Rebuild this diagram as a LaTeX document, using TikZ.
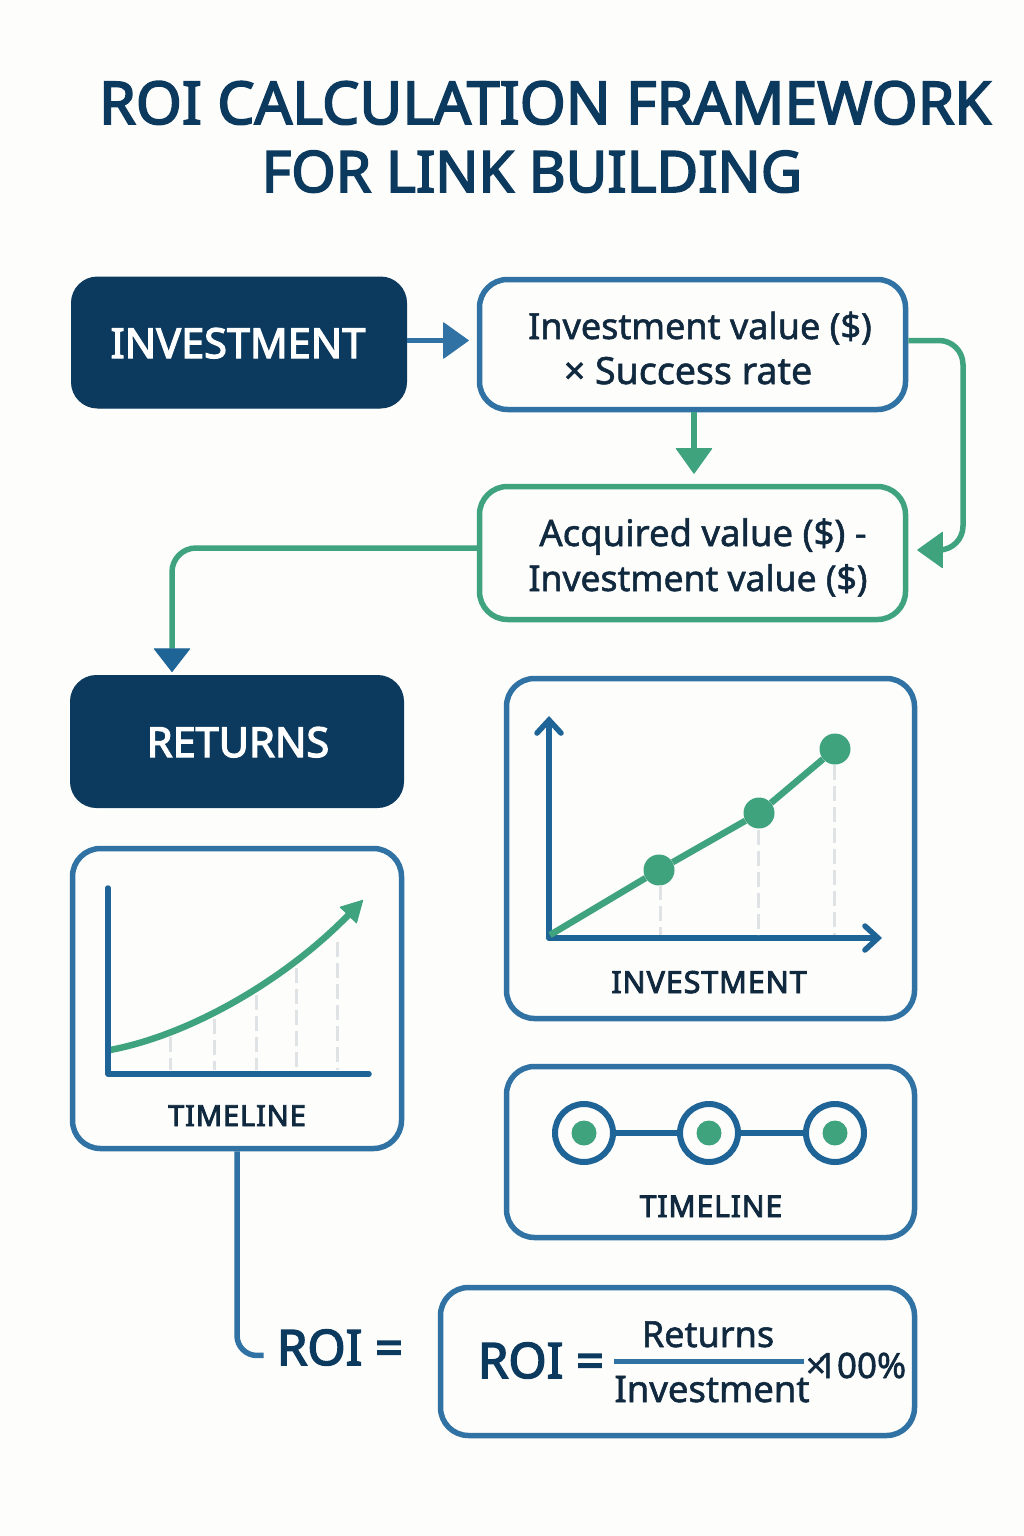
\documentclass[tikz,border=0pt]{standalone}
\usepackage{fontspec}
\setmainfont{Noto Sans}
\newfontfamily\medfont[FakeBold=3]{Noto Sans}
\newfontfamily\bodyfont[FakeBold=1.5]{Noto Sans}
\newfontfamily\trackfont[FakeBold=3,LetterSpace=3]{Noto Sans}
\usetikzlibrary{arrows.meta}
\definecolor{navy}{HTML}{0B3A5E}
\definecolor{lineblue}{HTML}{2F72A3}
\definecolor{axisblue}{HTML}{1F6496}
\definecolor{tealgreen}{HTML}{3FA37E}
\definecolor{inktext}{HTML}{10293F}
\definecolor{paper}{HTML}{FDFDFB}
\definecolor{dashgrey}{HTML}{E0E3E5}
\newcommand{\fsz}[1]{\fontsize{#1}{#1}\selectfont}
\tikzset{
  x=1pt,y=-1pt,
  navybox/.style={draw=navy,fill=navy,rounded corners=26pt,line width=1pt,inner sep=0,text=white},
  panel/.style={draw=lineblue,line width=5.5pt,rounded corners=28pt,fill=paper,inner sep=0},
  greenpanel/.style={panel,draw=tealgreen},
  label/.style={inner sep=0,anchor=base,text=inktext},
  blueline/.style={draw=lineblue,line width=5.5pt,rounded corners=20pt},
  greenline/.style={draw=tealgreen,line width=5.5pt,rounded corners=24pt},
  axis/.style={draw=axisblue,line width=5.5pt,line cap=round,line join=round},
  guide/.style={draw=dashgrey,line width=3pt,dash pattern=on 15pt off 6pt},
  plotline/.style={draw=tealgreen,line width=6.5pt},
  dotmark/.style={circle,fill=tealgreen,inner sep=0,minimum size=31pt},
  ring/.style={circle,draw=axisblue,fill=paper,line width=6pt,inner sep=0,minimum size=58pt},
  core/.style={circle,fill=tealgreen,inner sep=0,minimum size=25pt},
  bighead/.style={-{Triangle[length=26pt,width=37pt,line width=1pt,round]}},
  bluehead/.style={-{Triangle[length=24pt,width=37pt,line width=1pt,round,color=axisblue,fill=axisblue]}},
  openhead/.style={-{Straight Barb[length=13pt,width=24pt,line cap=round]}},
  curvehead/.style={-{Triangle[length=22pt,width=24pt,line width=1pt,round]}},
}
\begin{document}
\begin{tikzpicture}
\useasboundingbox[fill=paper] (0,0) rectangle (1024,1536);
% title
\node[label,text=navy] (t1) at (545,124) {\medfont\fsz{59}ROI CALCULATION FRAMEWORK};
\node[label,text=navy] (t2) at (532,192) {\medfont\fsz{57}FOR LINK BUILDING};
% boxes
\node[navybox,minimum width=335pt,minimum height=131pt] (inv) at (239,342.5) {};
\node[panel,minimum width=426pt,minimum height=130pt] (calc) at (692.5,344.5) {};
\node[greenpanel,minimum width=426pt,minimum height=133pt] (acq) at (692.5,553) {};
\node[navybox,minimum width=333pt,minimum height=132pt] (ret) at (237,741.5) {};
\node[panel,minimum width=408pt,minimum height=340pt] (chartR) at (710.5,848.5) {};
\node[panel,minimum width=329pt,minimum height=300pt] (chartL) at (237,998.5) {};
\node[panel,minimum width=408pt,minimum height=171pt] (tl) at (710.5,1152) {};
\node[panel,minimum width=474pt,minimum height=148pt] (roi) at (677.5,1361.5) {};
% box labels
\node[label,text=white] (invt) at (238,358) {\medfont\fsz{41.5}INVESTMENT};
\node[label,text=white] (rett) at (238,757) {\medfont\fsz{41.5}RETURNS};
\node[label] (c1) at (700,339) {\bodyfont\fsz{36}Investment value (\$)};
\node[label] (c2) at (688,384) {\bodyfont\fsz{37.5}× Success rate};
\node[label] (a1) at (703,546) {\bodyfont\fsz{36.5}Acquired value (\$) -};
\node[label] (a2) at (698,591) {\bodyfont\fsz{35.5}Investment value (\$)};
% connectors
\coordinate (rail) at (963,450);
\draw[draw=lineblue,line width=5.5pt,bighead,shorten >=8pt] ([yshift=2pt]inv.east) -- ([yshift=4pt]calc.west);
\draw[draw=tealgreen,line width=5.5pt,bighead,shorten >=10pt] ([xshift=1.5pt]calc.south) -- ([xshift=1.5pt]acq.north);
\draw[greenline,bighead,shorten >=9pt] ([yshift=4pt]calc.east) -| (rail) |- ([yshift=3pt]acq.east);
\draw[greenline,bluehead,shorten >=3pt] ([yshift=5pt]acq.west) -| ([xshift=-65pt]ret.north);
% right chart
\draw[axis,openhead] (549,938) -- (549,716);
\draw[axis,openhead] (549,938) -- (882,938);
\node[dotmark] (d1) at (659,870) {};
\node[dotmark] (d2) at (759,813) {};
\node[dotmark] (d3) at (835,749) {};
\draw[guide] (660,885) -- (660,935);
\draw[guide] (758,830) -- (758,935);
\draw[guide] (834,765) -- (834,935);
\draw[plotline] (550,935) -- (d1) -- (d2) -- (d3);
\node[label] (invc) at (709,993) {\trackfont\fsz{30.5}INVESTMENT};
% left chart
\draw[guide] (170,1037) -- (170,1070);
\draw[guide] (214,1019) -- (214,1070);
\draw[guide] (256,995) -- (256,1070);
\draw[guide] (296,968) -- (296,1070);
\draw[guide] (337,942) -- (337,1070);
\draw[draw=tealgreen,line width=6.5pt,curvehead] (110,1050) .. controls (190,1035) and (285,980) .. (363,900);
\draw[axis] (108,888) -- (108,1074) -- (369,1074);
\node[label] (tlc) at (237,1126) {\trackfont\fsz{29}TIMELINE};
% timeline
\node[ring] (r1) at (584,1133) {};
\node[ring] (r2) at (709,1133) {};
\node[ring] (r3) at (835,1133) {};
\draw[draw=axisblue,line width=5.5pt] (r1) -- (r2);
\draw[draw=axisblue,line width=5.5pt] (r2) -- (r3);
\node[core] at (r1) {};
\node[core] at (r2) {};
\node[core] at (r3) {};
\node[label] (tlt) at (711,1217) {\trackfont\fsz{30}TIMELINE};
% ROI
\node[label,text=navy] (roil) at (340,1365) {\medfont\fsz{49}ROI =};
\draw[blueline,shorten >=13pt] (chartL.south) |- ([yshift=-8pt]roil.west);
\node[label,text=navy] (roib) at (541,1378) {\medfont\fsz{49}ROI =};
\node[label] (fn) at (708,1347) {\bodyfont\fsz{36}Returns};
\node[label] (fd) at (712,1402) {\bodyfont\fsz{36.5}Investment};
\draw[draw=lineblue,line width=5pt] (fd.west |- 0,1361) -- ([xshift=-6pt]fd.east |- 0,1361);
\node[label] (pct) at (856,1378) {\bodyfont\fsz{35}×\kern-9pt 100\%};
\end{tikzpicture}
\end{document}
